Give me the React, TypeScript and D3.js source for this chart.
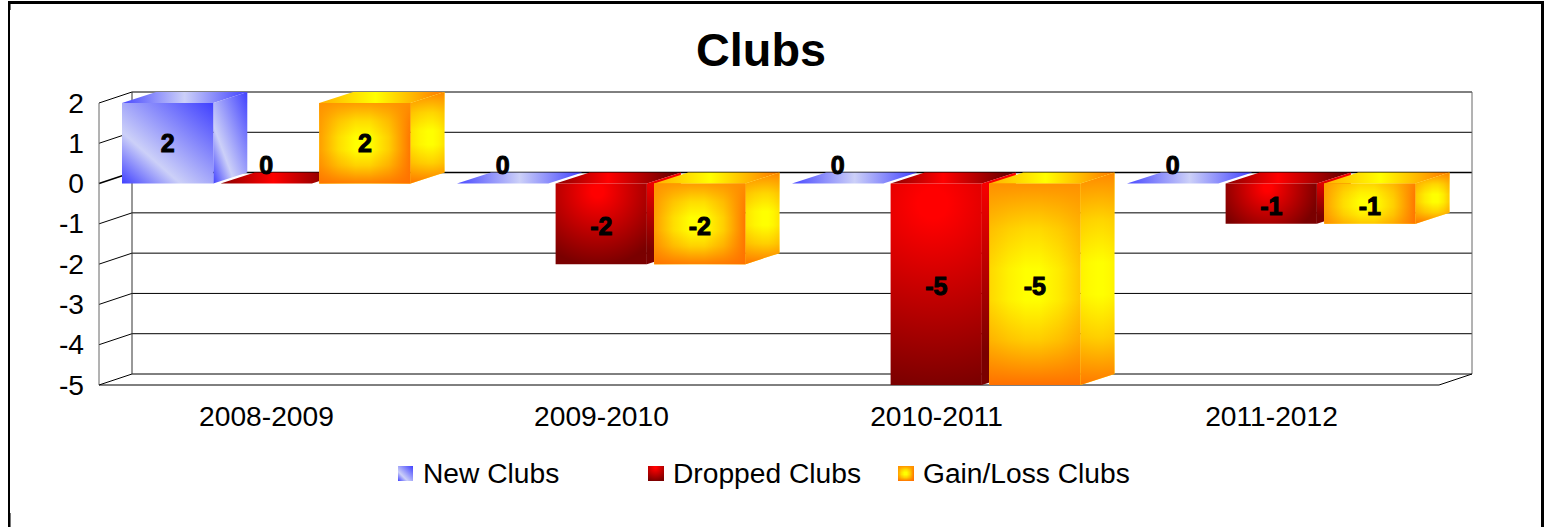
import { useRef, useEffect } from 'react';
import * as d3 from 'd3';

const SEASONS = ['2008-2009', '2009-2010', '2010-2011', '2011-2012'];
const SERIES_NAMES = ['New Clubs', 'Dropped Clubs', 'Gain/Loss Clubs'];
const NEW_CLUBS = [2, 0, 0, 0];
const DROPPED_CLUBS = [0, -2, -5, -1];
const GAIN_LOSS_CLUBS = [2, -2, -5, -1];
const Y_TICKS = [2, 1, 0, -1, -2, -3, -4, -5];
const LEGEND_X = [398, 648, 898];

const FONT = '"Liberation Sans", Arial, sans-serif';
const W = 1546;
const H = 527;

type Pt = [number, number];
type Sel = d3.Selection<any, any, any, any>;

let gradId = 0;

function linear(defs: Sel, stops: [number, string][], x1: number, y1: number, x2: number, y2: number) {
  const id = `g${gradId++}`;
  const g = defs.append('linearGradient').attr('id', id)
    .attr('x1', x1).attr('y1', y1).attr('x2', x2).attr('y2', y2);
  stops.forEach(([o, c]) => g.append('stop').attr('offset', o).attr('stop-color', c));
  return `url(#${id})`;
}

// Two-sided fade: colour a at the start, clear around mid, colour b at the end
function fade(defs: Sel, a: string, aAlpha: number, b: string, bAlpha: number, mid: number, x2: number, y2: number) {
  const id = `g${gradId++}`;
  const g = defs.append('linearGradient').attr('id', id)
    .attr('x1', 0).attr('y1', 0).attr('x2', x2).attr('y2', y2);
  const stop = (o: number, c: string, alpha: number) =>
    g.append('stop').attr('offset', o).attr('stop-color', c).attr('stop-opacity', alpha);
  stop(0, a, aAlpha);
  stop(mid * 0.45, a, aAlpha * 0.35);
  stop(mid * 0.85, a, 0);
  stop(mid + (1 - mid) * 0.15, b, 0);
  stop(mid + (1 - mid) * 0.55, b, bAlpha * 0.35);
  stop(1, b, bAlpha);
  return `url(#${id})`;
}

function poly(g: Sel, pts: Pt[], fill: string) {
  return g.append('polygon').attr('points', pts.map(p => p.join(',')).join(' ')).attr('fill', fill);
}

// Yellow core with orange coming in from the edges. The short direction of a face
// only gets part of the way to orange, so tall bars stay yellow across their width.
function glowFace(g: Sel, defs: Sel, pts: Pt[], w: number, h: number, cx: number, edges: string[], alphas: number[]) {
  const big = Math.max(w, h);
  const ax = Math.min(1, Math.pow(w / big, 1.3) + 0.05);
  const ay = Math.min(1, Math.pow(h / big, 1.3) + 0.05);
  poly(g, pts, '#ffff00');
  poly(g, pts, fade(defs, edges[3], alphas[3] * ax, edges[1], alphas[1] * ax, cx, 1, 0));
  poly(g, pts, fade(defs, edges[0], alphas[0] * ay, edges[2], alphas[2] * ay, 0.5, 0, 1));
}

function rectPts(x: number, y: number, w: number, h: number): Pt[] {
  return [[x, y], [x + w, y], [x + w, y + h], [x, y + h]];
}

function blueStops(): [number, string][] {
  return [[0, '#4040ff'], [0.68, '#ccd0f8'], [1, '#4040ff']];
}

function redFront(g: Sel, defs: Sel, x: number, y: number, w: number, h: number) {
  const id = `g${gradId++}`;
  const r = defs.append('radialGradient').attr('id', id).attr('gradientUnits', 'userSpaceOnUse')
    .attr('cx', x + w * 0.46).attr('cy', y + h * 0.1).attr('r', Math.max(w * 0.56, h * 0.92));
  r.append('stop').attr('offset', 0.08).attr('stop-color', '#ff0000');
  r.append('stop').attr('offset', 1).attr('stop-color', '#7a0000');
  poly(g, rectPts(x, y, w, h), `url(#${id})`);
}

function orangeFront(g: Sel, defs: Sel, x: number, y: number, w: number, h: number) {
  glowFace(g, defs, rectPts(x, y, w, h), w, h, 0.47, ['#ff9000', '#ff7400', '#ff7000', '#ff9800'], [1, 1, 1, 0.95]);
}

export default function App() {
  const ref = useRef<SVGSVGElement>(null);

  useEffect(() => {
    const svg = d3.select(ref.current);
    svg.selectAll('*').remove();
    gradId = 0;
    const defs = svg.append('defs');

    const x0 = d3.scaleBand<string>().domain(SEASONS).range([99, 1439]);
    const x1 = d3.scaleBand<string>().domain(SERIES_NAMES).range([23, 311.5]).paddingInner(0.0742);
    const y = d3.scaleLinear().domain([-5, 2]).range([385, 103]);

    const wallDx = 33;
    const depthDx = 34;
    const depthDy = -11;

    // Outer frame
    svg.append('rect').attr('x', 8).attr('y', 1).attr('width', 1536).attr('height', 3).attr('fill', '#000');
    svg.append('rect').attr('x', 8).attr('y', 1).attr('width', 2).attr('height', H).attr('fill', '#000');
    svg.append('rect').attr('x', 1541).attr('y', 1).attr('width', 3).attr('height', H).attr('fill', '#000');
    svg.append('rect').attr('x', 10).attr('y', 4).attr('width', 1).attr('height', 6).attr('fill', '#777');
    svg.append('rect').attr('x', 10).attr('y', 513).attr('width', 1).attr('height', 14).attr('fill', '#777');

    // Title
    svg.append('text').attr('x', 761).attr('y', 66).attr('text-anchor', 'middle')
      .style('font', `bold 46.8px ${FONT}`).attr('fill', '#000').text('Clubs');

    // Walls and gridlines
    const wall = svg.append('g').attr('stroke', '#000').attr('stroke-width', 1).attr('fill', 'none');
    Y_TICKS.forEach(t => {
      const sw = t === 0 ? 1.5 : 1;
      wall.append('line').attr('x1', 99).attr('y1', y(t)).attr('x2', 99 + wallDx).attr('y2', y(t) + depthDy).attr('stroke-width', sw);
      wall.append('line').attr('x1', 99 + wallDx).attr('y1', y(t) + depthDy).attr('x2', 1439 + wallDx).attr('y2', y(t) + depthDy).attr('stroke-width', sw);
    });
    wall.append('line').attr('x1', 99).attr('y1', y(2)).attr('x2', 99).attr('y2', y(-5)).attr('stroke', '#666');
    wall.append('line').attr('x1', 132).attr('y1', y(2) + depthDy).attr('x2', 132).attr('y2', y(-5) + depthDy).attr('stroke', '#333');
    wall.append('line').attr('x1', 1472).attr('y1', y(2) + depthDy).attr('x2', 1472).attr('y2', y(-5) + depthDy).attr('stroke', '#666');
    wall.append('line').attr('x1', 99).attr('y1', y(-5)).attr('x2', 1439).attr('y2', y(-5));
    wall.append('line').attr('x1', 1439).attr('y1', y(-5)).attr('x2', 1472).attr('y2', y(-5) + depthDy);

    // Axis labels
    const yAxis = svg.append('g').attr('transform', 'translate(99,0)')
      .call(d3.axisLeft(y).tickValues(Y_TICKS).tickSize(0).tickPadding(15).tickFormat(d => String(d)));
    yAxis.select('.domain').remove();
    yAxis.selectAll('text').style('font', `28.2px ${FONT}`).attr('fill', '#000');

    const xAxis = svg.append('g').attr('transform', 'translate(0,416)')
      .call(d3.axisBottom(x0).tickSize(0).tickPadding(0));
    xAxis.select('.domain').remove();
    xAxis.selectAll('text').style('font', `28.2px ${FONT}`).attr('fill', '#000').attr('dy', '0.36em');

    // Bars, back to front by draw order
    const seriesValues = [NEW_CLUBS, DROPPED_CLUBS, GAIN_LOSS_CLUBS];
    const labels: { x: number; y: number; v: number }[] = [];
    const bars = svg.append('g');

    SEASONS.forEach((season, ci) => {
      SERIES_NAMES.forEach((name, si) => {
        const v = seriesValues[si][ci];
        const bx = x0(season)! + x1(name)!;
        const bw = x1.bandwidth();
        const top = y(Math.max(v, 0));
        const bot = y(Math.min(v, 0));
        const h = bot - top;
        const topFace: Pt[] = [[bx, top], [bx + bw, top], [bx + bw + depthDx, top + depthDy], [bx + depthDx, top + depthDy]];
        const sideFace: Pt[] = [[bx + bw, top], [bx + bw + depthDx, top + depthDy], [bx + bw + depthDx, bot + depthDy], [bx + bw, bot]];
        const g = bars.append('g');

        if (si === 0) {
          poly(g, topFace, linear(defs, [[0, '#4848ff'], [0.5, '#ccd0f8'], [1, '#4040ff']], 0, 0, 1, 0));
          if (h > 0) {
            poly(g, sideFace, linear(defs, blueStops(), 1, 0, 0, 1));
            poly(g, rectPts(bx, top, bw, h), linear(defs, blueStops(), 1, 0, 0, 1));
          }
        } else if (si === 1) {
          poly(g, topFace, linear(defs, [[0, '#8c0000'], [0.42, '#ff0000'], [1, '#5a0000']], 0, 0, 1, 0));
          if (h > 0) {
            poly(g, sideFace, linear(defs, [[0, '#ff0000'], [0.85, '#7a0000']], 0, 0, 0, 1));
            redFront(g, defs, bx, top, bw, h);
          }
        } else {
          poly(g, topFace, linear(defs, [[0, '#ffb000'], [0.45, '#ffff00'], [1, '#ff7800']], 0, 0, 1, 0));
          if (h > 0) {
            glowFace(g, defs, sideFace, depthDx, h + 11, 0.6, ['#ff8800', '#ffa000', '#ff7800', '#ff9000'], [1, 0.9, 1, 0.8]);
            orangeFront(g, defs, bx, top, bw, h);
          }
        }
        labels.push({ x: bx + bw / 2, y: h > 0 ? (top + bot) / 2 + (v > 0 ? 0 : 2) : top - 19, v });
      });
    });

    // Data labels
    svg.append('g').selectAll('text').data(labels).join('text')
      .attr('x', d => d.x).attr('y', d => d.y).attr('dy', '0.36em')
      .attr('text-anchor', 'middle')
      .attr('fill', '#000').attr('stroke', '#000').attr('stroke-width', 1)
      .style('font', `bold 25px ${FONT}`)
      .text(d => d.v);

    // Legend
    const legend = svg.append('g');
    SERIES_NAMES.forEach((name, i) => {
      const lx = LEGEND_X[i];
      if (i === 0) poly(legend, rectPts(lx, 466, 15, 15), linear(defs, blueStops(), 1, 0, 0, 1));
      if (i === 1) redFront(legend, defs, lx, 466, 16, 15);
      if (i === 2) orangeFront(legend, defs, lx, 466, 16, 15);
      legend.append('text').attr('x', lx + 25).attr('y', 483)
        .style('font', `28.2px ${FONT}`).attr('fill', '#000').text(name);
    });
  }, []);

  return (
    <svg
      ref={ref}
      width={W}
      height={H}
      style={{ position: 'absolute', left: 0, top: 0, display: 'block', background: '#fff' }}
    />
  );
}
